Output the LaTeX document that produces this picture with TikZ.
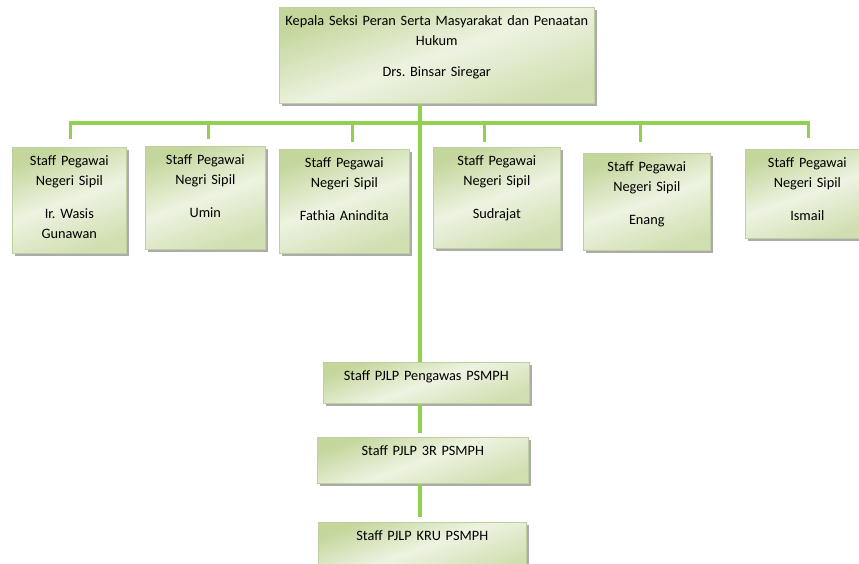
\documentclass[tikz,border=0pt]{standalone}
\usepackage{fontspec}
\setmainfont{Carlito}
\usetikzlibrary{positioning,shadows,calc}

\definecolor{boxdark}{RGB}{195,214,155}
\definecolor{boxlight}{RGB}{237,243,225}
\definecolor{boxedge}{RGB}{190,208,160}
\definecolor{linkgreen}{RGB}{146,208,80}

\begin{document}
\frenchspacing
\begin{tikzpicture}[x=1pt, y=-1pt,
    font=\fontsize{14.3}{20}\selectfont,
    every node/.style={anchor=north west}]
  \tikzstyle{card}=[draw=boxedge, line width=0.6pt,
    top color=boxdark, bottom color=boxdark!70!boxlight, middle color=boxlight,
    shading angle=20,
    drop shadow={shadow xshift=2.5pt, shadow yshift=-2.5pt, fill=black!55, opacity=0.6},
    inner xsep=2pt, inner ysep=8pt, text height=10pt, align=center]
  \tikzstyle{link}=[draw=linkgreen, line width=3.5pt]

  \useasboundingbox (0,0) rectangle (859,564);

  % kepala seksi
  \node[card, text width=311pt, text depth=70pt] (head) at (279,7)
    {Kepala Seksi Peran Serta Masyarakat dan Penaatan\\Hukum\\[11pt]Drs. Binsar Siregar};

  % staff PNS
  \node[card, text width=110pt, text depth=80pt] (s1) at (12,147)
    {Staff Pegawai\\Negeri Sipil\\[13pt]Ir. Wasis\\Gunawan};
  \node[card, text width=116pt, text depth=77pt] (s2) at (145,146)
    {Staff Pegawai\\Negri Sipil\\[13pt]Umin};
  \node[card, text width=126pt, text depth=78pt] (s3) at (279,149)
    {Staff Pegawai\\Negeri Sipil\\[13pt]Fathia Anindita};
  \node[card, text width=123pt, text depth=75pt] (s4) at (433,147)
    {Staff Pegawai\\Negeri Sipil\\[13pt]Sudrajat};
  \node[card, text width=123pt, text depth=71pt] (s5) at (583,153)
    {Staff Pegawai\\Negeri Sipil\\[13pt]Enang};
  \node[card, text width=120pt, text depth=63pt] (s6) at (745,149)
    {Staff Pegawai\\Negeri Sipil\\[13pt]Ismail};

  % staff PJLP
  \node[card, text width=202pt, text depth=15pt] (peng) at (323,362)
    {Staff PJLP Pengawas PSMPH};
  \node[card, text width=207pt, text depth=20pt] (r3) at (317,437)
    {Staff PJLP 3R PSMPH};
  \node[card, text width=204pt, text depth=24pt] (kru) at (318,522)
    {Staff PJLP KRU PSMPH};

  % garis
  \coordinate (bus) at (420,123);
  \draw[link] ([xshift=1pt,yshift=8pt]s1.north) |- (bus)
    -| ([xshift=1pt,yshift=11pt]s6.north);
  \foreach \n/\dx/\gap in {s2/3/7, s3/8/7, s4/-12.5/5, s5/-6.5/11}
    \draw[link] ([xshift=\dx pt]\n.north |- bus) -- ([xshift=\dx pt,yshift=\gap pt]\n.north);
  \draw[link] (bus |- head.south) -- (bus |- peng.north);
  \draw[link] (bus |- peng.south) -- ([yshift=4pt]bus |- r3.north);
  \draw[link] (bus |- r3.south) -- ([yshift=5pt]bus |- kru.north);
\end{tikzpicture}
\end{document}
